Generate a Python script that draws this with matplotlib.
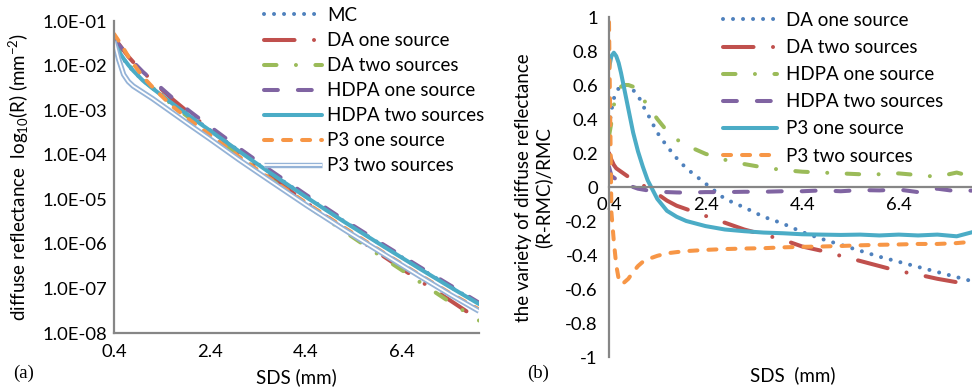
import numpy as np
import matplotlib
matplotlib.use('Agg')
import matplotlib.pyplot as plt
from matplotlib import patheffects as pe
from matplotlib.ticker import FixedLocator, FixedFormatter

plt.rcParams['font.family'] = ['Lato', 'DejaVu Sans']
plt.rcParams['mathtext.fontset'] = 'custom'
plt.rcParams['mathtext.rm'] = 'Lato'
plt.rcParams['mathtext.it'] = 'Lato:italic'
plt.rcParams['lines.scale_dashes'] = False

# ---- panel (a): diffuse reflectance, log10(R) ----
sds_a = [0.4, 0.5, 0.6, 0.7, 0.8, 1.0, 1.2, 1.6, 2.0, 2.4, 3.0, 3.6, 4.4, 5.2, 6.0, 6.8, 7.4, 8.0]
log_mc = [-1.52, -1.70, -1.86, -2.00, -2.12, -2.33, -2.50, -2.83, -3.14, -3.45,
          -3.91, -4.36, -4.94, -5.50, -6.04, -6.57, -6.96, -7.34]
log_da_one = [-1.39, -1.515, -1.66, -1.80, -1.92, -2.14, -2.345, -2.74, -3.095, -3.44,
              -3.95, -4.44, -5.07, -5.68, -6.27, -6.85, -7.27, -7.70]
log_da_two = [-1.44, -1.65, -1.82, -1.97, -2.095, -2.32, -2.50, -2.87, -3.20, -3.53,
              -4.02, -4.50, -5.13, -5.725, -6.31, -6.88, -7.31, -7.72]
log_hdpa_one = [-1.41, -1.53, -1.66, -1.80, -1.92, -2.14, -2.33, -2.71, -3.045, -3.37,
                -3.85, -4.31, -4.90, -5.47, -6.01, -6.54, -6.93, -7.32]
log_hdpa_two = [-1.47, -1.68, -1.845, -1.99, -2.115, -2.335, -2.51, -2.84, -3.155, -3.46,
                -3.92, -4.37, -4.95, -5.51, -6.05, -6.58, -6.97, -7.35]
log_p3_one = [-1.29, -1.45, -1.62, -1.80, -1.955, -2.25, -2.48, -2.90, -3.24, -3.56,
              -4.04, -4.50, -5.08, -5.64, -6.19, -6.72, -7.11, -7.47]
log_p3_two = [-1.45, -1.87, -2.20, -2.36, -2.46, -2.60, -2.74, -3.045, -3.35, -3.65,
              -4.11, -4.55, -5.13, -5.685, -6.22, -6.75, -7.14, -7.51]
ytick_labels_a = ['1.0E-01', '1.0E-02', '1.0E-03', '1.0E-04',
                  '1.0E-05', '1.0E-06', '1.0E-07', '1.0E-08']

# ---- panel (b): relative difference (R-RMC)/RMC ----
sds_b = [0.4, 0.45, 0.5, 0.55, 0.6, 0.65, 0.7, 0.8, 0.9, 1.0, 1.1, 1.2, 1.4, 1.6, 1.8, 2.0,
         2.4, 2.8, 3.2, 3.6, 4.0, 4.4, 4.8, 5.2, 5.6, 6.0, 6.4, 6.8, 7.2, 7.6, 8.0]
var_da_one = [0.35, 0.45, 0.52, 0.56, 0.58, 0.60, 0.60, 0.60, 0.57, 0.54, 0.48, 0.43, 0.32,
              0.24, 0.17, 0.11, 0.02, -0.07, -0.12, -0.175, -0.215, -0.265, -0.305, -0.34,
              -0.375, -0.41, -0.44, -0.47, -0.50, -0.53, -0.56]
var_da_two = [0.20, 0.16, 0.13, 0.11, 0.10, 0.09, 0.08, 0.06, 0.04, 0.025, 0.01, -0.005,
              -0.04, -0.08, -0.11, -0.13, -0.17, -0.21, -0.25, -0.28, -0.31, -0.35, -0.375,
              -0.405, -0.435, -0.465, -0.495, -0.515, -0.54, -0.56, -0.585]
var_hdpa_one = [0.30, 0.38, 0.48, 0.55, 0.57, 0.59, 0.60, 0.60, 0.59, 0.56, 0.52, 0.48, 0.40,
                0.33, 0.28, 0.245, 0.195, 0.16, 0.135, 0.115, 0.10, 0.09, 0.085, 0.08, 0.075,
                0.075, 0.08, 0.07, 0.06, 0.085, 0.055]
var_hdpa_two = [0.12, 0.065, 0.055, 0.045, 0.035, 0.028, 0.02, 0.01, 0.0, -0.01, -0.015,
                -0.02, -0.025, -0.03, -0.032, -0.033, -0.03, -0.03, -0.028, -0.028, -0.025,
                -0.025, -0.02, -0.025, -0.018, -0.02, -0.015, -0.03, -0.01, -0.025, -0.02]
var_p3_one = [0.70, 0.77, 0.79, 0.77, 0.73, 0.67, 0.60, 0.46, 0.32, 0.21, 0.12, 0.04, -0.07,
              -0.14, -0.175, -0.20, -0.23, -0.25, -0.26, -0.268, -0.272, -0.278, -0.28,
              -0.282, -0.28, -0.285, -0.28, -0.285, -0.28, -0.29, -0.26]
var_p3_two = [0.97, -0.15, -0.32, -0.46, -0.54, -0.57, -0.565, -0.54, -0.50, -0.465, -0.44,
              -0.425, -0.405, -0.39, -0.383, -0.377, -0.37, -0.365, -0.362, -0.36, -0.355,
              -0.352, -0.35, -0.347, -0.343, -0.34, -0.338, -0.335, -0.335, -0.33, -0.32]
ytick_labels_b = ['1', '0.8', '0.6', '0.4', '0.2', '0', '-0.2', '-0.4', '-0.6', '-0.8', '-1']

xticks = [0.4, 2.4, 4.4, 6.4]
xtick_labels = ['0.4', '2.4', '4.4', '6.4']

BLUE = '#4F81BD'
RED = '#C0504D'
GREEN = '#9BBB59'
PURPLE = '#8064A2'
AQUA = '#4BACC6'
ORANGE = '#F79646'
LIGHT = '#95B3D7'
AXIS = '#868686'

LW = 2.9
DOT = (0, (0.01, 7.2))
LONG_DASH_DOT = (0, (22, 14, 0.01, 14))
DASH_DOT = (0, (9, 14, 0.01, 14))
LONG_DASH = (0, (10, 14.4))
DASH = (0, (5.8, 7.9))

FS = 13.5
TICK_FS = 13.3


def style(**kw):
    d = dict(lw=LW, dash_capstyle='round', solid_capstyle='round')
    d.update(kw)
    return d


fig = plt.figure(figsize=(9.72, 3.89), dpi=100)

# ---------------- panel (a) ----------------
ax1 = fig.add_axes([114 / 972, 1 - 333 / 389, 365 / 972, 312 / 389])
ax1.set_yscale('log')
ax1.plot(sds_a, np.power(10.0, log_mc), color=BLUE, ls=DOT, label='MC', **style())
ax1.plot(sds_a, np.power(10.0, log_da_one), color=RED, ls=LONG_DASH_DOT,
         label='DA one source', **style())
ax1.plot(sds_a, np.power(10.0, log_da_two), color=GREEN, ls=DASH_DOT,
         label='DA two sources', **style())
ax1.plot(sds_a, np.power(10.0, log_hdpa_one), color=PURPLE, ls=LONG_DASH,
         label='HDPA one source', **style())
ax1.plot(sds_a, np.power(10.0, log_hdpa_two), color=AQUA, ls='-',
         label='HDPA two sources', **style())
ax1.plot(sds_a, np.power(10.0, log_p3_one), color=ORANGE, ls=DASH,
         label='P3 one source', **style())
ax1.plot(sds_a, np.power(10.0, log_p3_two), color='white', ls='-', lw=1.3,
         solid_capstyle='butt', label='P3 two sources',
         path_effects=[pe.Stroke(linewidth=3.9, foreground=LIGHT), pe.Normal()])

ax1.set_xlim(0.4, 8.0)
ax1.set_ylim(1e-8, 1e-1)
ax1.yaxis.set_major_locator(FixedLocator([10.0 ** -k for k in range(1, 9)]))
ax1.yaxis.set_major_formatter(FixedFormatter(ytick_labels_a))
ax1.yaxis.set_minor_locator(FixedLocator([]))
ax1.set_xticks(xticks)
ax1.set_xticklabels(xtick_labels)
ax1.tick_params(length=0, labelsize=TICK_FS)
ax1.tick_params(axis='y', pad=5)
ax1.tick_params(axis='x', pad=8)
for s in ['top', 'right']:
    ax1.spines[s].set_visible(False)
for s in ['left', 'bottom']:
    ax1.spines[s].set_color(AXIS)
    ax1.spines[s].set_linewidth(1.6)

ax1.legend(loc='upper left', bbox_to_anchor=(264 / 972, 1 - 7 / 389),
           bbox_transform=fig.transFigure, frameon=False, fontsize=FS,
           handlelength=3.09, handletextpad=0.27, labelspacing=0.43,
           borderpad=0, borderaxespad=0)

# ---------------- panel (b) ----------------
ax2 = fig.add_axes([609 / 972, 1 - 357 / 389, 367 / 972, 340 / 389])
ax2.plot(sds_b, var_da_one, color=BLUE, ls=DOT, label='DA one source', **style())
ax2.plot(sds_b, var_da_two, color=RED, ls=LONG_DASH_DOT, label='DA two sources', **style())
ax2.plot(sds_b, var_hdpa_one, color=GREEN, ls=DASH_DOT, label='HDPA one source', **style())
ax2.plot(sds_b, var_hdpa_two, color=PURPLE, ls=LONG_DASH, label='HDPA two sources', **style())
ax2.plot(sds_b, var_p3_one, color=AQUA, ls='-', label='P3 one source', **style())
ax2.plot(sds_b, var_p3_two, color=ORANGE, ls=DASH, label='P3 two sources', **style())

ax2.set_xlim(0.4, 8.0)
ax2.set_ylim(-1, 1)
ax2.set_yticks([1, 0.8, 0.6, 0.4, 0.2, 0, -0.2, -0.4, -0.6, -0.8, -1])
ax2.set_yticklabels(ytick_labels_b)
ax2.set_xticks(xticks)
ax2.set_xticklabels(xtick_labels)
ax2.tick_params(length=0, labelsize=TICK_FS)
ax2.tick_params(axis='y', pad=8)
ax2.tick_params(axis='x', pad=7.5)
ax2.spines['bottom'].set_position(('data', 0))
for s in ['top', 'right']:
    ax2.spines[s].set_visible(False)
for s in ['left', 'bottom']:
    ax2.spines[s].set_color(AXIS)
    ax2.spines[s].set_linewidth(1.6)

ax2.legend(loc='upper left', bbox_to_anchor=(723 / 972, 1 - 12 / 389),
           bbox_transform=fig.transFigure, frameon=False, fontsize=FS,
           handlelength=2.88, handletextpad=0.48, labelspacing=0.54,
           borderpad=0, borderaxespad=0)

# ---------------- labels ----------------
fig.text(19 / 972, 1 - 177 / 389, 'diffuse reflectance  log$_{10}$(R) (mm$^{-2}$)',
         rotation=90, ha='center', va='center', fontsize=FS)
fig.text(534 / 972, 1 - 188 / 389, 'the variety of diffuse reflectance\n(R-RMC)/RMC',
         rotation=90, ha='center', va='center', fontsize=FS, linespacing=1.15)
fig.text(296 / 972, 1 - 377 / 389, 'SDS (mm)', ha='center', va='center', fontsize=FS)
fig.text(793 / 972, 1 - 375 / 389, 'SDS  (mm)', ha='center', va='center', fontsize=FS)
fig.text(24 / 972, 1 - 373 / 389, '(a)', ha='center', va='center', fontsize=FS,
         family=['Liberation Serif', 'DejaVu Serif'])
fig.text(538 / 972, 1 - 373 / 389, '(b)', ha='center', va='center', fontsize=FS,
         family=['Liberation Serif', 'DejaVu Serif'])

fig.savefig('out.png', dpi=100)
